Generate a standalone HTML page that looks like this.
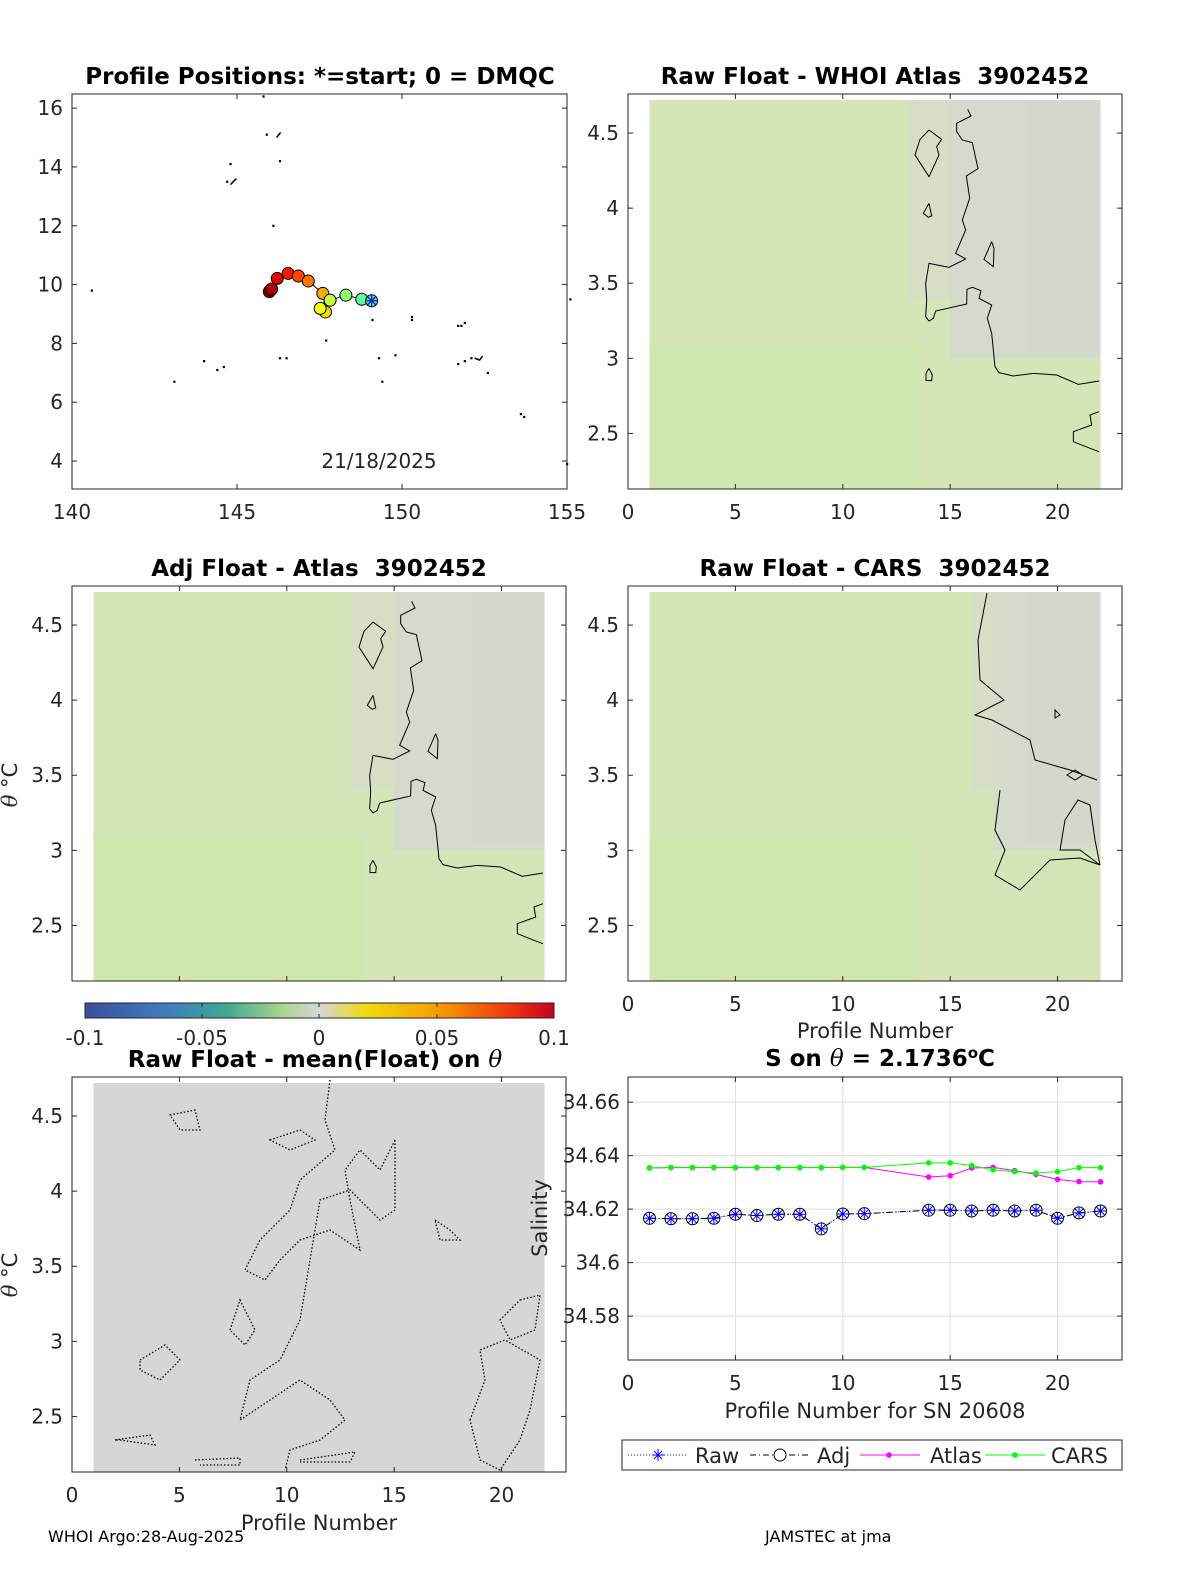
<!DOCTYPE html>
<html><head><meta charset="utf-8">
<style>
html,body{margin:0;padding:0;background:#fff;}
svg{display:block;font-family:"DejaVu Sans","Liberation Sans",sans-serif;}
text{white-space:pre;}
.tk{font-size:20px;fill:#262626;}
.ti{font-size:23px;font-weight:bold;fill:#000;}
.lb{font-size:21px;fill:#262626;}
</style></head>
<body>
<svg id="s" width="1200" height="1575" viewBox="0 0 1200 1575" xmlns="http://www.w3.org/2000/svg">
<defs>
<linearGradient id="cb" x1="0" x2="1" y1="0" y2="0">
<stop offset="0" stop-color="#3a4f9c"/><stop offset="0.18" stop-color="#3f7fc0"/>
<stop offset="0.3" stop-color="#3ea88f"/><stop offset="0.42" stop-color="#a8d48f"/>
<stop offset="0.5" stop-color="#d6d6d6"/><stop offset="0.6" stop-color="#f0da10"/>
<stop offset="0.75" stop-color="#f5a000"/><stop offset="0.9" stop-color="#ee3a10"/>
<stop offset="1" stop-color="#c8001e"/></linearGradient>
</defs>
<g id="root"></g>
</svg>
<script>
// ---------- data ----------
const mapLon = [149.08,148.78,148.30,147.82,147.52,147.68,147.60,147.16,146.86,146.55,146.22,146.05,145.98];
const mapLat = [9.45,9.50,9.64,9.47,9.19,9.07,9.70,10.12,10.29,10.38,10.21,9.85,9.76];
const coastLon = [145.8,145.9,144.8,144.7,146.3,140.6,143.1,144.0,144.4,144.6,146.3,146.5,147.7,149.3,149.4,149.8,150.3,150.3,151.7,151.9,152.1,151.7,151.8,151.9,152.6,153.6,153.7,155.0,155.1,149.1,146.1];
const coastLat = [16.4,15.1,14.1,13.5,14.2,9.8,6.7,7.4,7.1,7.2,7.5,7.5,8.1,7.5,6.7,7.6,8.9,8.8,8.6,7.4,7.5,7.3,8.6,8.7,7.0,5.6,5.5,3.9,9.5,8.8,12.0];
const sProf = [1,2,3,4,5,6,7,8,9,10,11,14,15,16,17,18,19,20,21,22];
const sRaw = [34.6166,34.6164,34.6164,34.6166,34.6181,34.6176,34.6181,34.6181,34.6126,34.6182,34.6183,34.6196,34.6196,34.6193,34.6196,34.6193,34.6196,34.6166,34.6186,34.6193];
const sAdj = [34.6166,34.6164,34.6164,34.6166,34.6181,34.6176,34.6181,34.6181,34.6126,34.6182,34.6183,34.6196,34.6196,34.6193,34.6196,34.6193,34.6196,34.6166,34.6186,34.6193];
const sAtlas = [34.6354,34.6355,34.6355,34.6355,34.6355,34.6355,34.6355,34.6355,34.6355,34.6356,34.6356,34.6320,34.6325,34.6354,34.6356,34.6344,34.6330,34.6311,34.6303,34.6302];
const sCars = [34.6354,34.6356,34.6356,34.6356,34.6356,34.6356,34.6356,34.6356,34.6356,34.6356,34.6356,34.6373,34.6373,34.6363,34.6347,34.6340,34.6335,34.6340,34.6355,34.6355];
const xTicks = [0,5,10,15,20];
const thTicks = [2.5,3,3.5,4,4.5];
const thLabels = ['2.5','3','3.5','4','4.5'];
const sTicks = [34.58,34.6,34.62,34.64,34.66];
const sLabels = ['34.58','34.6','34.62','34.64','34.66'];
const lonTicks = [140,145,150,155];
const latTicks = [4,6,8,10,12,14,16];

const NS='http://www.w3.org/2000/svg';
const root=document.getElementById('root');
function E(tag,at,parent,txt){const e=document.createElementNS(NS,tag);for(const k in at)e.setAttribute(k,at[k]);if(txt!==undefined)e.textContent=txt;(parent||root).appendChild(e);return e;}
function T(x,y,s,cls,anchor,name,parent){const t=E('text',{x:x,y:y,class:cls,'text-anchor':anchor||'middle'},parent,s);

return t;}
function jet(t){const r=Math.min(1,Math.max(0,1.5-Math.abs(4*t-3))),g=Math.min(1,Math.max(0,1.5-Math.abs(4*t-2))),b=Math.min(1,Math.max(0,1.5-Math.abs(4*t-1)));return `rgb(${r*255|0},${g*255|0},${b*255|0})`;}

// ---------- map ----------
{const X0=72,X1=567,Y0=94,Y1=489;const lx=v=>X0+(v-140)/15*(X1-X0);const ly=v=>Y1-(v-3.05)/(16.48-3.05)*(Y1-Y0);
const g=E('g',{});
E('rect',{x:X0,y:Y0,width:X1-X0,height:Y1-Y0,fill:'#fff',stroke:'#262626','stroke-width':1},g);
lonTicks.forEach(v=>{E('line',{x1:lx(v),x2:lx(v),y1:Y1,y2:Y1-5,stroke:'#262626'},g);E('line',{x1:lx(v),x2:lx(v),y1:Y0,y2:Y0+5,stroke:'#262626'},g);T(lx(v),519,String(v),'tk','middle','lon-tick-label',g);});
latTicks.forEach(v=>{E('line',{x1:X0,x2:X0+5,y1:ly(v),y2:ly(v),stroke:'#262626'},g);E('line',{x1:X1,x2:X1-5,y1:ly(v),y2:ly(v),stroke:'#262626'},g);T(63,ly(v)+7,String(v),'tk','end','lat-tick-label',g);});
coastLon.forEach((v,i)=>{const r=E('rect',{x:lx(v)-1,y:ly(coastLat[i])-1,width:2.2,height:2.2,fill:'#000'},g);});
E('path',{d:`M${lx(146.2)} ${ly(15.0)} l4 -5 M${lx(144.8)} ${ly(13.4)} l6 -6 M${lx(152.2)} ${ly(7.5)} l5 2 l3 -4`,stroke:'#000','stroke-width':1.5,fill:'none'},g);
let pts=mapLon.map((v,i)=>lx(v)+','+ly(mapLat[i])).join(' ');
E('polyline',{points:pts,fill:'none',stroke:'#000','stroke-width':1},g);
for(let i=mapLon.length-1;i>=1;i--){const c=E('circle',{cx:lx(mapLon[i]),cy:ly(mapLat[i]),r:6,fill:jet(0.42+0.58*i/(mapLon.length-1)),stroke:'#000','stroke-width':1},g);
}
const sx=lx(mapLon[0]),sy=ly(mapLat[0]);
const st=E('circle',{cx:sx,cy:sy,r:6,fill:'#4ef0b8',stroke:'#000'},g);
E('path',{d:`M${sx-6} ${sy}h12M${sx} ${sy-6}v12M${sx-4} ${sy-4}l8 8M${sx+4} ${sy-4}l-8 8`,stroke:'#1020c0','stroke-width':1.3},g);
T(379,468,'21/18/2025','tk','middle','map-date-label',g);
T(320,84,'Profile Positions: *=start; 0 = DMQC','ti','middle','map-title',g);}

// ---------- heatmap panels ----------
const rawContour=[[1103,58],[1113,78],[1070,100],[1070,125],[1087,150],[1117,158],[1134,236],[1099,258],[1109,325],[1087,390],[1097,420],[1067,490],[1097,507],[1047,532],[987,520],[977,580],[980,630],[977,680],[987,693],[1000,685],[1007,663],[1100,642],[1101,598],[1117,592],[1143,602],[1137,625],[1175,645],[1162,685],[1175,730],[1185,830],[1197,848],[1240,858],[1300,850],[1370,855],[1435,883],[1497,873]];
const rawBlobs=[[[987,120],[1025,148],[1010,170],[1017,195],[987,260],[945,195],[960,148],[987,120]],[[987,340],[995,378],[985,382],[970,370],[987,340]],[[1175,455],[1182,475],[1180,530],[1152,508],[1175,455]],[[987,835],[997,855],[995,872],[978,872],[978,850],[987,835]],[[1497,965],[1470,975],[1475,1005],[1420,1025],[1420,1055],[1470,1075],[1497,1085]]];
function heat(X0,Y0,name,title,contours,showX){
 const W=494,H=395;const px=v=>X0+v/23*W;const py=v=>Y0+H-(v-2.13)/(4.76-2.13)*H;
 const g=E('g',{});
 const d0=px(1),d1=px(22),top=py(4.72);
 E('rect',{x:d0,y:top,width:d1-d0,height:Y0+H-top,fill:'#d4e6b7'},g);
 E('rect',{x:d0,y:py(3.1),width:(d1-d0)*0.6,height:Y0+H-py(3.1),fill:'#cde7ac',opacity:0.55},g);
 contours.gray(g,px,py,d1,top);
 E('rect',{x:X0,y:Y0,width:W,height:H,fill:'none',stroke:'#262626'},g);
 xTicks.forEach(v=>{E('line',{x1:px(v),x2:px(v),y1:Y0+H,y2:Y0+H-5,stroke:'#262626'},g);E('line',{x1:px(v),x2:px(v),y1:Y0,y2:Y0+5,stroke:'#262626'},g);if(showX)T(px(v),Y0+H+30,String(v),'tk','middle','x-tick-label',g);});
 thTicks.forEach((v,i)=>{E('line',{x1:X0,x2:X0+5,y1:py(v),y2:py(v),stroke:'#262626'},g);E('line',{x1:X0+W,x2:X0+W-5,y1:py(v),y2:py(v),stroke:'#262626'},g);T(X0-9,py(v)+7,thLabels[i],'tk','end','theta-tick-label',g);});
 T(X0+W/2,Y0-10,title,'ti','middle','panel-title',g);
 contours.lines(g);
 return g;}
function grayRight(a,b){return (g,px,py,d1,top)=>{
 E('rect',{x:px(a),y:top,width:px(b)-px(a),height:py(3.4)-top,fill:'#d6dfc6'},g);
 E('rect',{x:px(b),y:top,width:d1-px(b),height:py(3.0)-top,fill:'#d5dbcc'},g);
 E('rect',{x:px(18.5),y:top,width:d1-px(18.5),height:py(3.05)-top,fill:'#d3d8cd'},g);};}
function mkLines(pts,blobs,dx,dy){return g=>{const f=p=>(p[0]/3+dx)+','+(p[1]/3+dy);
 E('polyline',{points:pts.map(f).join(' '),fill:'none',stroke:'#000','stroke-width':1},g);
 (blobs||[]).forEach(b=>E('polyline',{points:b.map(f).join(' '),fill:'none',stroke:'#000','stroke-width':1},g));};}
heat(628,94,'raw-minus-atlas-panel','Raw Float - WHOI Atlas  3902452',{gray:grayRight(13,15),lines:mkLines(rawContour,rawBlobs,600,90)},true);
heat(72,586,'adj-minus-atlas-panel','Adj Float - Atlas  3902452',{gray:grayRight(13,15),lines:mkLines(rawContour,rawBlobs,44,582)},false);
heat(628,586,'raw-minus-cars-panel','Raw Float - CARS  3902452',{gray:grayRight(16,17),lines:g=>{E('path',{d:'M987 593 L978 640 L980 680 L1004 700 L975 715 L992 720 L1030 740 L1035 760 L1070 770 L1097 780 M1100 865 L1080 850 L1060 850 L1065 820 L1078 800 L1090 805 L1095 840 L1100 865 M1000 790 L995 830 L1005 850 L995 875 L1020 890 L1030 880 L1050 860 L1080 858 L1100 865 M1055 710 l5 5 l-5 3 z M1075 770 l8 5 l-8 5 l-8 -5 z',fill:'none',stroke:'#000'},g);}},true);
T(875,1038,'Profile Number','lb','middle','x-axis-title');

// ---------- colorbar ----------
{const r=E('rect',{x:85,y:1003,width:469,height:15,fill:'url(#cb)',stroke:'#262626'});
 [['-0.1',85],['-0.05',202],['0',319],['0.05',437],['0.1',554]].forEach(a=>{E('line',{x1:a[1],x2:a[1],y1:1003,y2:1007,stroke:'#262626'});E('line',{x1:a[1],x2:a[1],y1:1018,y2:1014,stroke:'#262626'});T(a[1],1045,a[0],'tk','middle','colorbar-tick-label');});}

// ---------- raw minus mean panel ----------
{const X0=72,Y0=1077,W=494,H=395;const px=v=>X0+v/23*W;const py=v=>Y0+H-(v-2.13)/(4.76-2.13)*H;
 const g=E('g',{});
 E('rect',{x:px(1),y:py(4.72),width:px(22)-px(1),height:Y0+H-py(4.72),fill:'#d6d6d6'},g);
 const dots=['M330 1080 L325 1120 L335 1150 L300 1180 L290 1210 L260 1240 L245 1270 L265 1280 L280 1260 L300 1240 L330 1230 L360 1250 L350 1200 L345 1170 L360 1150 L380 1170 L395 1140',
 'M395 1140 L395 1210 L380 1220 L350 1190 L320 1200 L310 1260 L300 1320 L280 1360 L250 1380 L240 1420 L270 1400 L300 1380 L330 1400 L345 1420 L320 1440 L290 1450 L285 1470',
 'M270 1140 L300 1130 L315 1140 L290 1150 Z','M170 1115 L195 1110 L200 1130 L180 1130 Z','M140 1360 L165 1345 L180 1360 L160 1380 L140 1370 Z','M230 1330 L240 1300 L255 1330 L245 1345 Z',
 'M520 1300 L540 1295 L535 1330 L510 1340 L500 1320 Z','M470 1420 L485 1380 L480 1350 L505 1340 L540 1360 L530 1410 L520 1440 L500 1470 L480 1460 Z','M115 1440 L150 1435 L155 1445 L120 1440 Z','M300 1460 L355 1452 L350 1462 L300 1462','M435 1220 L450 1230 L460 1240 L440 1240 Z','M195 1460 L240 1458 L240 1465 L200 1465'];
 dots.forEach(d=>E('path',{d:d,fill:'none',stroke:'#000','stroke-width':1.3,'stroke-dasharray':'1.5 2'},g));
 E('rect',{x:X0,y:Y0,width:W,height:H,fill:'none',stroke:'#262626'},g);
 xTicks.forEach(v=>{E('line',{x1:px(v),x2:px(v),y1:Y0+H,y2:Y0+H-5,stroke:'#262626'},g);E('line',{x1:px(v),x2:px(v),y1:Y0,y2:Y0+5,stroke:'#262626'},g);T(px(v),Y0+H+30,String(v),'tk','middle','x-tick-label',g);});
 thTicks.forEach((v,i)=>{E('line',{x1:X0,x2:X0+5,y1:py(v),y2:py(v),stroke:'#262626'},g);E('line',{x1:X0+W,x2:X0+W-5,y1:py(v),y2:py(v),stroke:'#262626'},g);T(X0-9,py(v)+7,thLabels[i],'tk','end','theta-tick-label',g);});
 const t=T(X0+W/2-4,Y0-10,'Raw Float - mean(Float) on ','ti','middle','panel-title',g);E('tspan',{'font-style':'italic','font-weight':'normal','font-family':'DejaVu Serif'},t,'θ');
 T(319,1530,'Profile Number','lb','middle','x-axis-title');}

// y titles
[785,1275].forEach(y=>{const t=E('text',{x:0,y:0,class:'lb',transform:`translate(17 ${y}) rotate(-90)`,'text-anchor':'middle'},root);
 E('tspan',{'font-style':'italic','font-family':'DejaVu Serif'},t,'θ');E('tspan',{},t,' °C');});

// ---------- salinity chart ----------
{const X0=628,X1=1122,Y0=1077,Y1=1360;const px=v=>X0+v/23*(X1-X0);const py=v=>Y1-(v-34.5636)/(34.6694-34.5636)*(Y1-Y0);
 const g=E('g',{});
 E('rect',{x:X0,y:Y0,width:X1-X0,height:Y1-Y0,fill:'#fff'},g);
 xTicks.forEach(v=>E('line',{x1:px(v),x2:px(v),y1:Y0,y2:Y1,stroke:'#dedede'},g));
 sTicks.forEach(v=>E('line',{x1:X0,x2:X1,y1:py(v),y2:py(v),stroke:'#dedede'},g));
 E('rect',{x:X0,y:Y0,width:X1-X0,height:Y1-Y0,fill:'none',stroke:'#262626'},g);
 xTicks.forEach(v=>{E('line',{x1:px(v),x2:px(v),y1:Y1,y2:Y1-5,stroke:'#262626'},g);E('line',{x1:px(v),x2:px(v),y1:Y0,y2:Y0+5,stroke:'#262626'},g);T(px(v),Y1+30,String(v),'tk','middle','x-tick-label',g);});
 sTicks.forEach((v,i)=>{E('line',{x1:X0,x2:X0+5,y1:py(v),y2:py(v),stroke:'#262626'},g);E('line',{x1:X1,x2:X1-5,y1:py(v),y2:py(v),stroke:'#262626'},g);T(620,py(v)+7,sLabels[i],'tk','end','salinity-tick-label',g);});
 const line=(arr,col,dash,name)=>{const p=E('polyline',{points:sProf.map((x,i)=>px(x)+','+py(arr[i])).join(' '),fill:'none',stroke:col,'stroke-width':1,'stroke-dasharray':dash||'none'},g);};
 line(sAtlas,'#ff00ff','','atlas-line');line(sCars,'#00ff00','','cars-line');
 sAtlas.forEach((v,i)=>E('circle',{cx:px(sProf[i]),cy:py(v),r:2.8,fill:'#ff00ff'},g));
 sCars.forEach((v,i)=>E('circle',{cx:px(sProf[i]),cy:py(v),r:2.8,fill:'#00ff00'},g));
 line(sRaw,'#0000ff','1 2','raw-line');line(sAdj,'#000','6 3 1 3','adj-line');
 sAdj.forEach((v,i)=>{const c=E('circle',{cx:px(sProf[i]),cy:py(v),r:6,fill:'none',stroke:'#000'},g);});
 sRaw.forEach((v,i)=>{const x=px(sProf[i]),y=py(v);const m=E('path',{d:`M${x-6} ${y}h12M${x} ${y-6}v12M${x-4} ${y-4}l8 8M${x+4} ${y-4}l-8 8`,stroke:'#0000ff','stroke-width':1},g);});
 const t=T(880,1066,'S on ','ti','middle','salinity-title',g);E('tspan',{'font-style':'italic','font-weight':'normal','font-family':'DejaVu Serif'},t,'θ');E('tspan',{},t,' = 2.1736');E('tspan',{dy:-8,'font-size':15},t,'o');E('tspan',{dy:8},t,'C');
 T(875,1418,'Profile Number for SN 20608','lb','middle','x-axis-title',g);
 const yt=E('text',{x:0,y:0,class:'lb',transform:'translate(547 1218) rotate(-90)','text-anchor':'middle'},g,'Salinity');
 const L=E('g',{},g);
 E('rect',{x:622,y:1440,width:500,height:30,fill:'#fff',stroke:'#262626'},L);
 E('line',{x1:628,x2:688,y1:1455,y2:1455,stroke:'#0000ff','stroke-dasharray':'1 2'},L);
 E('path',{d:'M652 1455h12M658 1449v12M654 1451l8 8M662 1451l-8 8',stroke:'#0000ff'},L);T(695,1463,'Raw','lb','start','legend-raw',L);
 E('line',{x1:750,x2:810,y1:1455,y2:1455,stroke:'#000','stroke-dasharray':'6 3 1 3'},L);E('circle',{cx:780,cy:1455,r:6,fill:'#fff',stroke:'#000'},L);T(817,1463,'Adj','lb','start','legend-adj',L);
 E('line',{x1:860,x2:920,y1:1455,y2:1455,stroke:'#ff00ff'},L);E('circle',{cx:889,cy:1455,r:2.8,fill:'#ff00ff'},L);T(930,1463,'Atlas','lb','start','legend-atlas',L);
 E('line',{x1:985,x2:1045,y1:1455,y2:1455,stroke:'#00ff00'},L);E('circle',{cx:1015,cy:1455,r:2.8,fill:'#00ff00'},L);T(1051,1463,'CARS','lb','start','legend-cars',L);}

// footer
const f1=E('text',{x:48,y:1542,'font-size':16,fill:'#000'},root,'WHOI Argo:28-Aug-2025');
const f2=E('text',{x:765,y:1542,'font-size':16,fill:'#000'},root,'JAMSTEC at jma');
</script>
</body></html>
